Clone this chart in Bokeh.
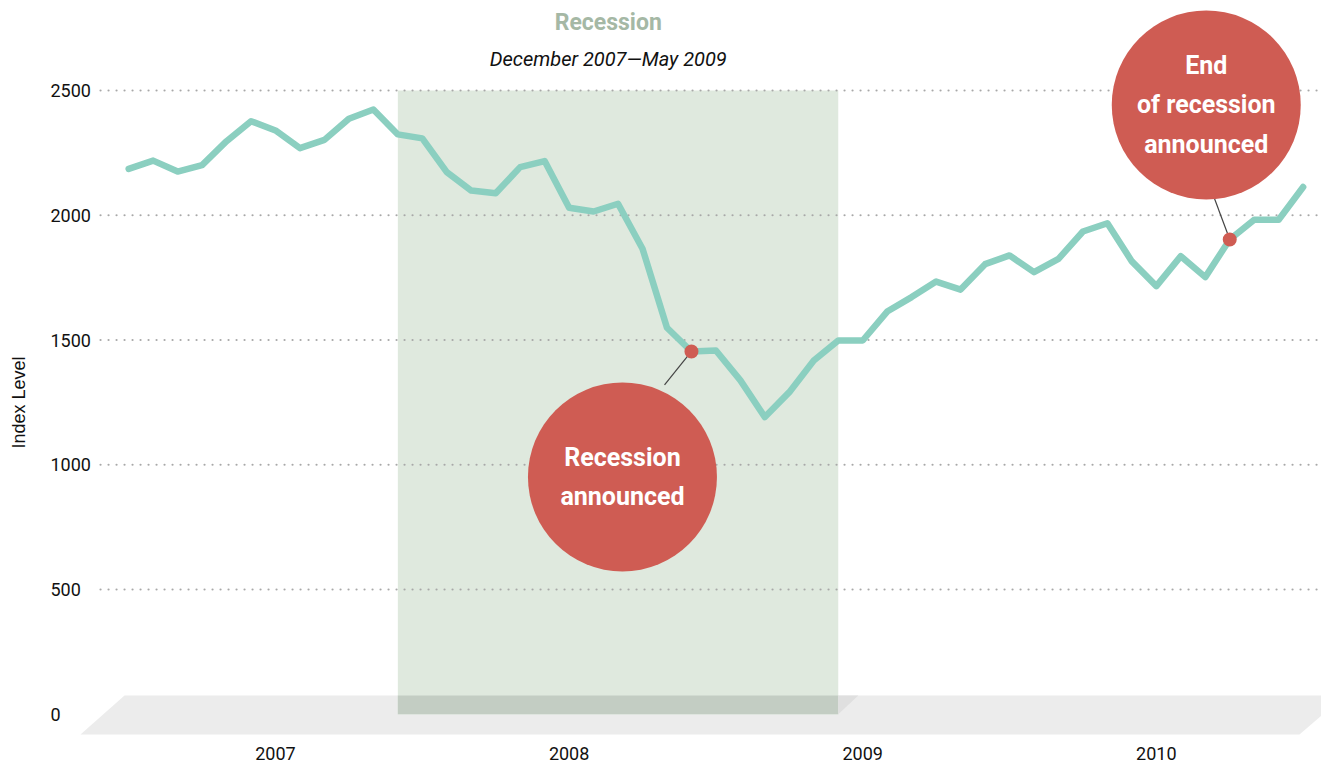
import math
from bokeh.plotting import figure
from bokeh.models import Range1d, FixedTicker
from bokeh.core.properties import value
from bokeh.embed import file_html
from bokeh.resources import INLINE

# ---------------- data ----------------
start_year = 2007
index_values = [2186, 2219, 2175, 2201, 2297, 2377, 2340, 2269, 2302, 2387, 2424, 2324,
                2308, 2173, 2099, 2088, 2193, 2217, 2030, 2015, 2046, 1866, 1549, 1454,
                1458, 1338, 1191, 1291, 1418, 1498, 1498, 1614, 1672, 1734, 1702, 1804,
                1839, 1772, 1825, 1935, 1968, 1815, 1716, 1836, 1752, 1903, 1982, 1982,
                2113]
months = list(range(len(index_values)))          # 0 = January 2007
year_labels = ["2007", "2008", "2009", "2010"]
y_ticks = [0, 500, 1000, 1500, 2000, 2500]
y_grid = [500, 1000, 1500, 2000, 2500]
recession_start = 11   # December 2007
recession_end = 29     # end of May 2009
recession_title = "Recession"
recession_sub = "December 2007\u2014May 2009"
ann_labels = ["Recession\nannounced", "End\nof recession\nannounced"]
ann_month = [23, 45]
ann_bubble_x = [20.18, 44.04]
ann_bubble_y = [951, 2442]
ann_conn_x = [21.9, 44.25]
ann_conn_y = [1320, 2100]

# ---------------- styles ----------------
LINE = "#8bcfc0"
RED = "#cf5c53"
FONT = "Roboto"

p = figure(width=1321, height=768, frame_width=1321, frame_height=744,
           x_range=Range1d(-5.239, 48.75), y_range=Range1d(-121.2, 2860.7),
           output_backend="svg", toolbar_location=None, tools="",
           min_border_left=0, min_border_right=0, min_border_top=0, min_border_bottom=0,
           y_axis_location=None)
p.outline_line_color = None
p.grid.visible = False
p.background_fill_color = "white"

# floor (3D base)
x0 = months[0]; x1 = months[-1]
p.patch([x0 - 1.97, x0 - 0.17, x1 + 1.7, x1 - 0.15], [-81.2, 75, 75, -81.2],
        fill_color="#ececec", line_color=None)

# recession shade
p.quad(left=[recession_start], right=[recession_end], bottom=[0], top=[2500],
       fill_color="#dfe9de", line_color=None)
p.quad(left=[recession_start], right=[recession_end], bottom=[0], top=[75],
       fill_color="#c3cdc3", line_color=None)
p.patch([recession_end, recession_end, recession_end + 0.82], [0, 75, 75],
        fill_color="#dfdfdf", line_color=None)

# dotted grid lines
p.segment(x0=[x0 - 1.15] * len(y_grid), x1=[60] * len(y_grid), y0=y_grid, y1=y_grid,
          line_color="#a8a8a8", line_width=2.2, line_dash="0 8", line_cap="round")

# index line
p.line(months, index_values, line_color=LINE, line_width=6.5, line_join="round", line_cap="round")

# annotations
ann_dot_y = [index_values[m] for m in ann_month]
p.segment(x0=ann_month, y0=ann_dot_y, x1=ann_conn_x, y1=ann_conn_y,
          line_color="#444444", line_width=1.2)
p.scatter(ann_month, ann_dot_y, size=14, fill_color=RED, line_color=None)
p.scatter(ann_bubble_x, ann_bubble_y, size=189, fill_color=RED, line_color=None)
p.text(ann_bubble_x, ann_bubble_y, text=ann_labels, text_color="white",
       text_font=value(FONT), text_font_style="bold", text_font_size="25px",
       text_align="center", text_baseline="middle", text_line_height=1.36)

# title
p.text([19.6], [2772], text=[recession_title], text_color="#a5b8a5",
       text_font=value(FONT), text_font_style="bold", text_font_size="23px",
       text_align="center", text_baseline="middle")
p.text([19.6], [2628], text=[recession_sub], text_color="#111111",
       text_font=value(FONT), text_font_style="italic", text_font_size="20px",
       text_align="center", text_baseline="middle")

# y tick labels and axis title
p.text([-3.196] * len(y_ticks), y_ticks, text=[str(t) for t in y_ticks], text_color="#111111",
       text_font=value(FONT), text_font_size="18px",
       text_align="left", text_baseline="middle")
p.text([-4.48], [1249.5], text=["Index Level"], angle=math.pi / 2, text_color="#111111",
       text_font=value("Liberation Sans"), text_font_size="18px",
       text_align="center", text_baseline="middle")

# x axis
tick_pos = [(int(y) - start_year) * 12 + 6 for y in year_labels]
p.xaxis.ticker = FixedTicker(ticks=tick_pos)
p.xaxis.major_label_overrides = {t: l for t, l in zip(tick_pos, year_labels)}
p.xaxis.axis_line_color = None
p.xaxis.major_tick_line_color = None
p.xaxis.minor_tick_line_color = None
p.xaxis.major_tick_out = 0
p.xaxis.major_tick_in = 0
p.xaxis.major_label_standoff = 2
p.xaxis.major_label_text_font = FONT
p.xaxis.major_label_text_font_size = "18px"
p.xaxis.major_label_text_color = "#111111"

open("out.html", "w").write(file_html(p, INLINE))
